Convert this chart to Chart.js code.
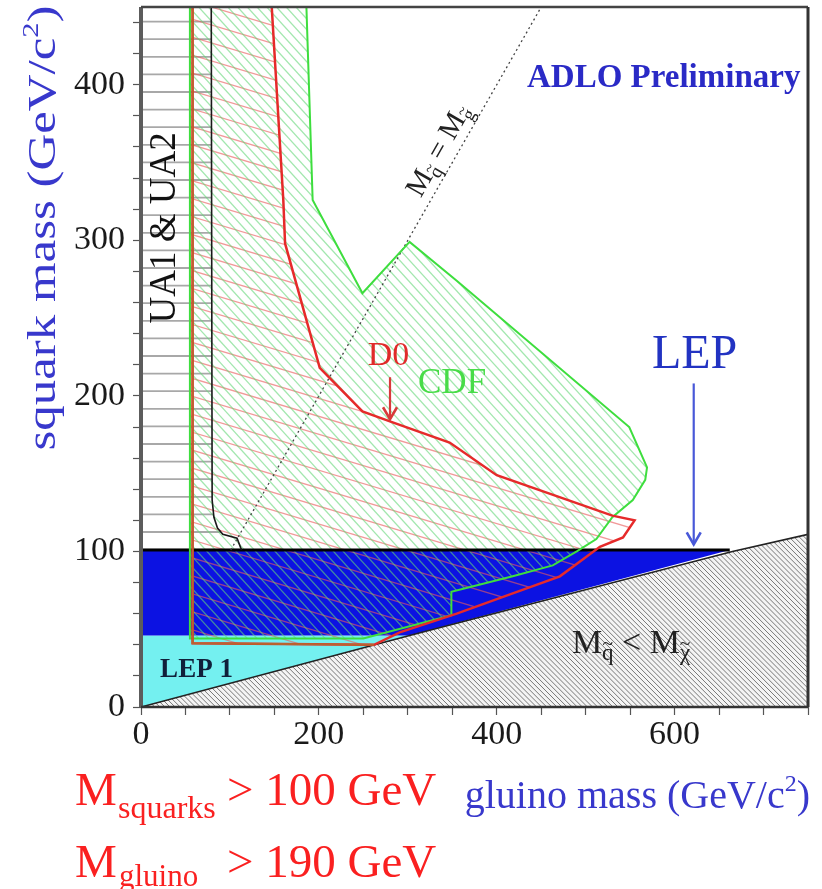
<!DOCTYPE html>
<html><head><meta charset="utf-8">
<script src="https://cdn.jsdelivr.net/npm/chart.js"></script>
<style>html,body{margin:0;padding:0;background:#fff;overflow:hidden}#wrap{position:relative;width:822px;height:889px}</style>
</head><body><div id="wrap"><canvas id="c" width="822" height="889"></canvas></div>
<script>
// ---- axes ----
const xRange = [0, 750];
const yRange = [0, 450];
const xTickLabels = [0, 200, 400, 600];
const yTickLabels = [0, 100, 200, 300, 400];
const xMinorTicks = [0, 50, 100, 150, 200, 250, 300, 350, 400, 450, 500, 550, 600, 650, 700, 750];
const yMinorTicks = [0, 20, 40, 60, 80, 100, 120, 140, 160, 180, 200, 220, 240, 260, 280, 300, 320, 340, 360, 380, 400, 420, 440];

// ---- regions (x = gluino mass, y = squark mass, GeV/c^2) ----
const lspLineX = [0, 302, 665, 750];
const lspLineY = [0, 46, 100, 111];
const excludedX = [0, 302, 665, 750, 750];
const excludedY = [0, 46, 100, 111, 0];
const lep1X = [0, 0, 302];
const lep1Y = [0, 46, 46];
const lepX = [0, 0, 662, 302];
const lepY = [46, 101, 101, 46];
const lepTopX = [0, 662];
const lepTopY = [101, 101];
const uaX = [0, 0, 79, 80, 82, 86, 92, 108, 113];
const uaY = [101, 450, 450, 133, 122, 115, 111, 108.5, 101];
const uaCurveX = [79, 80, 82, 86, 92, 108, 113];
const uaCurveY = [450, 133, 122, 115, 111, 108.5, 101];
const d0X = [58, 58, 262, 291, 355, 418, 471, 516, 542, 555, 530, 400, 347, 283, 249, 201, 162, 160, 147];
const d0Y = [450, 41, 40, 48, 60, 73, 84, 103, 109, 120, 123, 149, 170, 183, 190, 218, 298, 326, 450];
const d0EdgeX = [58, 58, 262];
const d0EdgeY = [450, 41, 40];
const cdfX = [55, 55, 250, 349, 349, 418, 463, 490, 512, 530, 553, 567, 569, 549, 355, 302, 249, 193, 186];
const cdfY = [450, 44, 44, 59, 74, 84, 91, 100, 108, 122, 133, 146, 154, 180, 274, 299, 266, 326, 450];
const eqLineX = [101, 450];
const eqLineY = [101, 450];

// ---- text ----
const yTitle = ['squark mass (GeV/c', '2', ')'];
const xTitle = ['gluino mass (GeV/c', '2', ')'];
const labelADLO = 'ADLO Preliminary';
const labelLEP = 'LEP';
const labelD0 = 'D0';
const labelCDF = 'CDF';
const labelUA = 'UA1 & UA2';
const labelLEP1 = 'LEP 1';
const limitSquark = ['M', 'squarks', '> 100 GeV'];
const limitGluino = ['M', 'gluino', '> 190 GeV'];

const FAM = "'Liberation Serif', 'Times New Roman', serif";
const F = (s, b) => (b ? 'bold ' : '') + s + 'px ' + FAM;
const pts = (xs, ys) => xs.map((x, i) => ({x: x, y: ys[i]}));

function hatch(dx, dy, spacing, color, width, bg) {
  const c = document.createElement('canvas'); c.width = 822; c.height = 889;
  const g = c.getContext('2d');
  if (bg) { g.fillStyle = bg; g.fillRect(0, 0, 822, 889); }
  const len = Math.hypot(dx, dy), ux = dx / len, uy = dy / len, nx = -uy, ny = ux;
  g.strokeStyle = color; g.lineWidth = width;
  const n = Math.ceil(1300 / spacing), cx = 411, cy = 444, L = 1500;
  for (let k = -n; k <= n; k++) {
    const px = cx + nx * k * spacing, py = cy + ny * k * spacing;
    g.beginPath(); g.moveTo(px - ux * L, py - uy * L); g.lineTo(px + ux * L, py + uy * L); g.stroke();
  }
  return g.createPattern(c, 'no-repeat');
}
const grayPat = hatch(1, 1, 3.6, '#777', 1, '#f4f4f4');
const uaPat = hatch(1, 0, 17.6, '#a8a8a8', 1.8, null);
const redPat = hatch(1, 0.3, 17.2, 'rgba(232,90,90,0.62)', 1.3, null);
const greenPat = hatch(1, 1.1, 7.2, 'rgba(100,215,120,0.6)', 1.3, null);

function area(data, bg, order) {
  return {data: data, showLine: true, fill: 'shape', backgroundColor: bg, borderWidth: 0, borderColor: 'rgba(0,0,0,0)', pointRadius: 0, order: order};
}
function line(data, color, width, order, dash) {
  return {data: data, showLine: true, fill: false, borderColor: color, borderWidth: width, borderDash: dash || [], pointRadius: 0, order: order};
}

function rich(ctx, parts, x, y, align) {
  let w = 0;
  for (const p of parts) { ctx.font = F(p[1], p[3]); w += ctx.measureText(p[0]).width; }
  let cx = align === 'center' ? x - w / 2 : (align === 'right' ? x - w : x);
  for (const p of parts) {
    ctx.font = F(p[1], p[3]);
    const pw = ctx.measureText(p[0]).width;
    ctx.fillText(p[0], cx, y + (p[2] || 0));
    if (p[4]) {
      ctx.font = F(p[1] * 0.85);
      const tw = ctx.measureText('~').width;
      ctx.fillText('~', cx + pw / 2 - tw / 2, y + (p[2] || 0) - p[1] * 0.45);
    }
    cx += pw;
  }
  return w;
}
function textWidth(ctx, parts) {
  let w = 0;
  for (const p of parts) { ctx.font = F(p[1], p[3]); w += ctx.measureText(p[0]).width; }
  return w;
}

const annot = {
  id: 'annot',
  afterDraw(chart) {
    const ctx = chart.ctx, a = chart.chartArea;
    const X = v => chart.scales.x.getPixelForValue(v);
    const Y = v => chart.scales.y.getPixelForValue(v);
    ctx.save();
    ctx.textAlign = 'left'; ctx.textBaseline = 'alphabetic';

    // frame
    ctx.strokeStyle = '#5c5c5c'; ctx.lineWidth = 4;
    ctx.beginPath(); ctx.moveTo(a.left, a.top); ctx.lineTo(a.left, a.bottom); ctx.stroke();
    ctx.strokeStyle = '#444'; ctx.lineWidth = 2.5;
    ctx.beginPath(); ctx.moveTo(a.left, a.top); ctx.lineTo(a.right, a.top); ctx.stroke();
    ctx.strokeStyle = '#333'; ctx.lineWidth = 3;
    ctx.beginPath(); ctx.moveTo(a.right, a.top); ctx.lineTo(a.right, a.bottom); ctx.stroke();
    ctx.lineWidth = 2.5;
    ctx.beginPath(); ctx.moveTo(a.left, a.bottom); ctx.lineTo(a.right, a.bottom); ctx.stroke();

    // labels inside the plot
    ctx.fillStyle = '#2a2ac6';
    ctx.font = F(33, true); ctx.fillText(labelADLO, X(434), Y(398.5));
    ctx.fillStyle = '#2233c2';
    ctx.font = F(48); ctx.fillText(labelLEP, X(574.5), Y(218));
    ctx.fillStyle = '#e02a2a';
    ctx.font = F(34); ctx.fillText(labelD0, X(255), Y(220));
    ctx.fillStyle = '#48dc48';
    ctx.font = F(35); ctx.fillText(labelCDF, X(311.5), Y(202));
    ctx.fillStyle = '#10203a';
    ctx.font = F(27, true); ctx.fillText(labelLEP1, X(21.5), Y(19.3));

    // UA1 & UA2 rotated
    ctx.fillStyle = '#111';
    ctx.save(); ctx.translate(X(38), Y(308)); ctx.rotate(-Math.PI / 2);
    ctx.font = F(37); ctx.textAlign = 'center'; ctx.fillText(labelUA, 0, 0);
    ctx.restore();

    // M_q < M_chi
    ctx.fillStyle = '#222';
    rich(ctx, [['M', 34], ['q', 23, 7, false, true], [' < M', 34], ['\u03C7', 23, 7, false, true]], X(484.5), Y(34.5), 'left');

    // M_q = M_g rotated along the diagonal
    const ang = Math.atan2(Y(0) - Y(100), X(100) - X(0));
    ctx.save(); ctx.translate(X(334), Y(358)); ctx.rotate(-ang);
    rich(ctx, [['M', 29], ['q', 19, 6, false, true], [' = M', 29], ['g', 19, 6, false, true]], 0, 9, 'center');
    ctx.restore();

    // arrows
    function arrow(x, y1, y2, color) {
      const px = X(x), p1 = Y(y1), p2 = Y(y2);
      ctx.strokeStyle = color; ctx.lineWidth = 2.2;
      ctx.beginPath(); ctx.moveTo(px, p1); ctx.lineTo(px, p2); ctx.stroke();
      ctx.lineWidth = 2.6;
      ctx.beginPath(); ctx.moveTo(px - 7, p2 - 12); ctx.lineTo(px, p2); ctx.lineTo(px + 7, p2 - 12); ctx.stroke();
    }
    arrow(621.5, 208, 104.5, '#4858d8');
    arrow(280, 212, 185, '#d83a3a');

    // axis titles
    ctx.fillStyle = '#3838cc';
    const yParts = [[yTitle[0], 40], [yTitle[1], 24, -17], [yTitle[2], 40]];
    const yw = textWidth(ctx, yParts);
    ctx.save(); ctx.translate(55, 228); ctx.rotate(-Math.PI / 2); ctx.scale(445 / yw, 1);
    rich(ctx, yParts, 0, 0, 'center');
    ctx.restore();
    rich(ctx, [[xTitle[0], 40], [xTitle[1], 24, -17], [xTitle[2], 40]], 810, 808, 'right');

    // limits in red
    ctx.fillStyle = '#fa2020';
    ctx.font = F(47); ctx.fillText(limitSquark[0], 75, 805);
    ctx.font = F(32); ctx.fillText(limitSquark[1], 118, 818);
    ctx.font = F(47); ctx.fillText(limitSquark[2], 227, 805);
    ctx.font = F(47); ctx.fillText(limitGluino[0], 75, 877);
    ctx.font = F(31); ctx.fillText(limitGluino[1], 119, 886);
    ctx.font = F(47); ctx.fillText(limitGluino[2], 227, 877);
    ctx.restore();
  }
};

new Chart(document.getElementById('c'), {
  type: 'scatter',
  data: {
    datasets: [
      area(pts(excludedX, excludedY), grayPat, 20),
      area(pts(lep1X, lep1Y), '#74f0f0', 19),
      area(pts(lepX, lepY), '#0c12e2', 18),
      area(pts(uaX, uaY), uaPat, 16),
      area(pts(d0X, d0Y), redPat, 15),
      area(pts(cdfX, cdfY), greenPat, 14),
      line(pts(lspLineX, lspLineY), '#222', 1.6, 10),
      line(pts(lepTopX, lepTopY), '#000', 3, 9),
      line(pts(uaCurveX, uaCurveY), '#1a1a1a', 1.6, 8),
      line(pts(eqLineX, eqLineY), '#444', 1.3, 7, [2, 3]),
      line(pts(cdfX, cdfY), '#3ede3e', 2, 6),
      line(pts(d0X, d0Y), '#e62a2a', 2.5, 5),
      line(pts(d0EdgeX, d0EdgeY), '#b8642e', 2, 4)
    ]
  },
  options: {
    responsive: false, animation: false, events: [],
    layout: {padding: {left: 0, right: 14, top: 7, bottom: 0}},
    plugins: {legend: {display: false}, tooltip: {enabled: false}},
    elements: {point: {radius: 0}, line: {tension: 0}},
    scales: {
      x: {
        type: 'linear', position: 'bottom', min: xRange[0], max: xRange[1],
        afterBuildTicks: s => { s.ticks = xMinorTicks.map(v => ({value: v})); },
        afterFit: s => { s.height = 182; s.paddingLeft = 0; s.paddingRight = 0; },
        ticks: {autoSkip: false, maxRotation: 0, padding: 0, color: '#1a1a1a', font: {family: FAM, size: 34},
          callback: v => xTickLabels.includes(v) ? String(v) : ''},
        grid: {drawOnChartArea: false, drawTicks: true, tickLength: 8, tickColor: '#555', tickWidth: 1.2},
        border: {display: false}
      },
      y: {
        type: 'linear', position: 'left', min: yRange[0], max: yRange[1],
        afterBuildTicks: s => { s.ticks = yMinorTicks.map(v => ({value: v})); },
        afterFit: s => { s.width = 141; s.paddingTop = 0; s.paddingBottom = 0; },
        ticks: {autoSkip: false, padding: 8, color: '#1a1a1a', font: {family: FAM, size: 34},
          callback: v => yTickLabels.includes(v) ? String(v) : ''},
        grid: {drawOnChartArea: false, drawTicks: true, tickLength: 8, tickColor: '#555', tickWidth: 1.2},
        border: {display: false}
      }
    }
  },
  plugins: [annot]
});
</script>
</body></html>
